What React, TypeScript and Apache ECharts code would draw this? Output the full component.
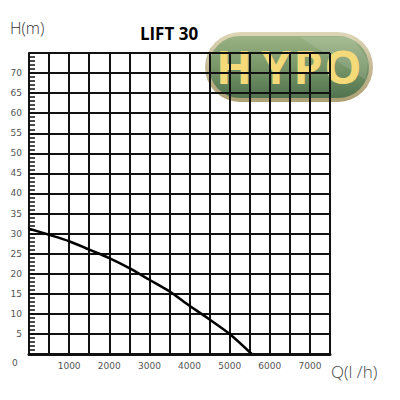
import React, { useEffect, useRef } from "react";
import * as echarts from "echarts";

const flowQ = [0, 500, 1000, 1500, 2000, 2500, 3000, 3500, 4000, 4500, 5000, 5550];
const headH = [31.2, 29.7, 28.1, 26, 23.9, 21.4, 18.5, 15.6, 12, 8.6, 5, 0];
const xTickLabels = [1000, 2000, 3000, 4000, 5000, 6000, 7000];
const yTickLabels = [5, 10, 15, 20, 25, 30, 35, 40, 45, 50, 55, 60, 65, 70];
const title = "LIFT 30";
const yName = "H(m)";
const xName = "Q(l /h)";
const logoLetters = ["H", "Y", "P", "O"];

export default function App() {
  const ref = useRef<HTMLDivElement>(null);
  useEffect(() => {
    if (!ref.current) return;
    const chart = echarts.init(ref.current, null, { renderer: "svg" });
    const labelStyle = { color: "#555", fontSize: 9, fontFamily: "DejaVu Sans" };
    const letterX = [234, 276, 308, 343];
    chart.setOption({
      animation: false,
      backgroundColor: "#fff",
      grid: { left: 29, top: 53, width: 301, height: 301, containLabel: false },
      xAxis: {
        type: "value",
        min: 0,
        max: 7500,
        interval: 500,
        axisLine: { show: true, lineStyle: { color: "#111", width: 3 } },
        axisTick: { show: false },
        splitLine: { show: true, lineStyle: { color: "#111", width: 2 } },
        axisLabel: {
          ...labelStyle,
          margin: 7,
          showMinLabel: true,
          showMaxLabel: true,
          formatter: (v: number) => (xTickLabels.includes(v) ? String(v) : ""),
        },
      },
      yAxis: {
        type: "value",
        min: 0,
        max: 75,
        interval: 5,
        axisLine: { show: true, lineStyle: { color: "#111", width: 2 } },
        axisTick: { show: true, inside: true, length: 6, lineStyle: { color: "#111", width: 1.5 } },
        minorTick: { show: true, splitNumber: 5, length: 6, lineStyle: { color: "#111", width: 1.5 } },
        splitLine: { show: true, lineStyle: { color: "#111", width: 2 } },
        axisLabel: {
          ...labelStyle,
          margin: 7,
          formatter: (v: number) => (yTickLabels.includes(v) ? String(v) : ""),
        },
      },
      series: [
        {
          type: "line",
          data: flowQ.map((q, i) => [q, headH[i]]),
          smooth: 0.3,
          showSymbol: false,
          lineStyle: { color: "#000", width: 2.5 },
          z: 5,
        },
      ],
      graphic: [
        {
          type: "text",
          left: 10,
          top: 20,
          style: { text: yName, fill: "#333", fontSize: 16, fontWeight: 300, fontFamily: "Open Sans" },
        },
        {
          type: "text",
          left: 12,
          top: 358,
          style: { text: "0", fill: "#555", fontSize: 9, fontFamily: "DejaVu Sans" },
        },
        {
          type: "text",
          left: 331,
          top: 363,
          style: { text: xName, fill: "#444", fontSize: 17, fontWeight: 300, fontFamily: "Open Sans" },
        },
        {
          type: "text",
          x: 169,
          y: 33,
          style: {
            text: title,
            fill: "#000",
            fontSize: 17,
            fontWeight: "bold",
            fontFamily: "Open Sans",
            align: "center",
            verticalAlign: "middle",
          },
        },
        {
          type: "group",
          z: 100,
          children: [
            {
              type: "rect",
              shape: { x: 205, y: 32, width: 168, height: 70, r: 35 },
              style: {
                fill: new echarts.graphic.LinearGradient(0, 0, 0, 1, [
                  { offset: 0, color: "#ddd4b4" },
                  { offset: 1, color: "#a89a6c" },
                ]),
                opacity: 0.95,
              },
            },
            {
              type: "rect",
              shape: { x: 209, y: 36, width: 160, height: 62, r: 31 },
              style: {
                fill: new echarts.graphic.LinearGradient(0, 0, 0, 1, [
                  { offset: 0, color: "#8fad7c" },
                  { offset: 0.5, color: "#6a8f60" },
                  { offset: 1, color: "#3f6a47" },
                ]),
                opacity: 0.85,
              },
            },
            {
              type: "polygon",
              shape: { points: [[300, 37], [352, 37], [368, 60], [366, 80]] },
              style: { fill: "rgba(255,255,255,0.12)" },
            },
            ...logoLetters.map((ch, i) => ({
              type: "text",
              x: letterX[i],
              y: 66,
              style: {
                text: ch,
                fill: "#f4da78",
                fontSize: 47,
                fontWeight: "bold",
                fontFamily: "Open Sans",
                align: "center",
                verticalAlign: "middle",
              },
            })),
          ],
        },
      ],
    });
    return () => chart.dispose();
  }, []);
  return (
    <div
      ref={ref}
      style={{ position: "fixed", left: 0, top: 0, width: 400, height: 400 }}
    />
  );
}
